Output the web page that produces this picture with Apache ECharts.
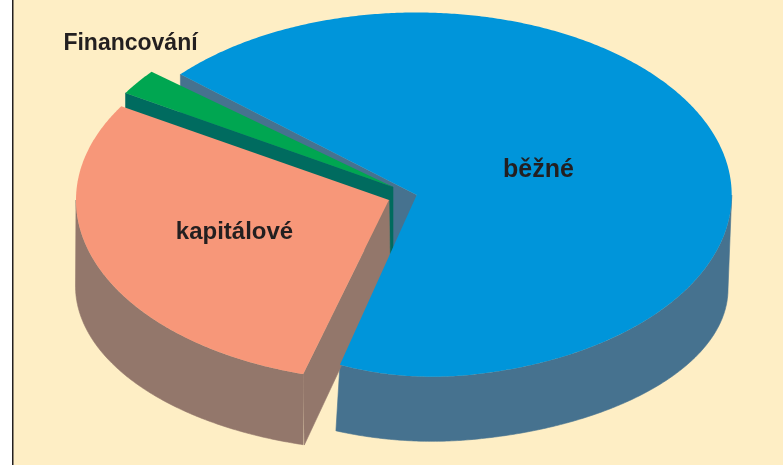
<!DOCTYPE html>
<html><head><meta charset="utf-8">
<style>html,body{margin:0;padding:0;background:#fff}#c{width:783px;height:465px}</style>
<script src="https://cdn.jsdelivr.net/npm/echarts@6/dist/echarts.min.js"></script>
</head><body><div id="c"></div>
<script>
var categories = ['běžné', 'kapitálové', 'Financování'];
var values = [68.2, 29.5, 2.3];
var topColors = ['#0095DA', '#F79779', '#00A651'];
var wallColors = ['#46728F', '#93776B', '#006B5F'];
var DEG_PER_UNIT = 3.57;
var geometry = [
  {cx: 416.7, cy: 195, rx: 315, ry: 182.5, start: 311.4, apexDrop: 65, edgeDrop: 65, lean: 0,
    tuck: {from: 170, dx: 0.0066, dy: -0.0107},
    low: {cx: 416, cy: 289, rx: 312, ry: 153, tuck: {from: 170, dx: 0, dy: -0.0098}}},
  {cx: 389, cy: 200, rx: 313, ry: 181, start: 195.9, apexDrop: 62, edgeDrop: 71, lean: 1,
    low: {cx: 389, cy: 286, rx: 313.5, ry: 165}},
  {cx: 393, cy: 187, rx: 313, ry: 181, start: 301.3, apexDrop: 73, edgeDrop: 73, lean: 0, low: null}
];
var labelPos = [[538.5, 170], [234.5, 232], [130.5, 44]];
var labelSize = [25, 24, 23];

function pt(e, deg) {
  deg = deg % 360;
  var a = deg * Math.PI / 180;
  var x = e.cx + e.rx * Math.sin(a), y = e.cy - e.ry * Math.cos(a);
  if (e.tuck && deg > e.tuck.from && deg < 270) {
    var d = deg - e.tuck.from;
    x += e.tuck.dx * d * d;
    y += e.tuck.dy * d * d;
  }
  return [x, y];
}
function arc(e, from, to) {
  var out = [], n = Math.max(2, Math.ceil(Math.abs(to - from) * 2));
  for (var i = 0; i <= n; i++) out.push(pt(e, from + (to - from) * i / n));
  return out;
}
function sweep(i) { return values[i] * DEG_PER_UNIT; }
function poly(points, fill, seal) {
  return {type: 'polygon', shape: {points: points},
    style: {fill: fill, stroke: seal ? fill : null, lineWidth: seal ? 0.6 : 0}};
}
function topFace(i) {
  var g = geometry[i];
  return poly([[g.cx, g.cy]].concat(arc(g, g.start, g.start + sweep(i))), topColors[i], false);
}
function radialWall(i, deg) {
  var g = geometry[i], p = pt(g, deg);
  return poly([[g.cx, g.cy], p, [p[0] + g.lean, p[1] + g.edgeDrop], [g.cx + g.lean, g.cy + g.apexDrop]], wallColors[i], true);
}
function outerWall(i, from, to) {
  var g = geometry[i];
  return poly(arc(g, from, to).concat(arc(g.low, to, from)), wallColors[i], true);
}
// painter's order, back to front
var layers = [
  function () { var e = geometry[0].start + sweep(0) - 360;
    return [radialWall(0, geometry[0].start), outerWall(0, 90, e)]; },
  function () { return [radialWall(2, geometry[2].start), topFace(2)]; },
  function () { var g = geometry[1];
    return [radialWall(1, g.start), outerWall(1, g.start, 270), topFace(1)]; },
  function () { return [topFace(0)]; },
  function () {
    return categories.map(function (c, i) {
      return {type: 'text', x: labelPos[i][0], y: labelPos[i][1],
        style: {text: c, fill: '#231F20', align: 'center', verticalAlign: 'middle',
          font: 'bold ' + labelSize[i] + 'px "Liberation Sans", Arial, sans-serif'}};
    });
  }
];
var chart = echarts.init(document.getElementById('c'), null, {renderer: 'canvas'});
chart.setOption({
  animation: false,
  backgroundColor: '#FFFFFF',
  graphic: [
    {type: 'rect', z: -10, shape: {x: 13, y: 0, width: 770, height: 465}, style: {fill: '#FEEEC5'}},
    {type: 'rect', z: -9, shape: {x: 12, y: 0, width: 1.5, height: 465}, style: {fill: '#231F20'}}
  ],
  series: [{
    type: 'custom', coordinateSystem: 'none', silent: true, clip: false,
    data: layers.map(function (_, i) { return [i]; }),
    renderItem: function (params) {
      return {type: 'group', children: layers[params.dataIndex]()};
    }
  }]
});
</script></body></html>
